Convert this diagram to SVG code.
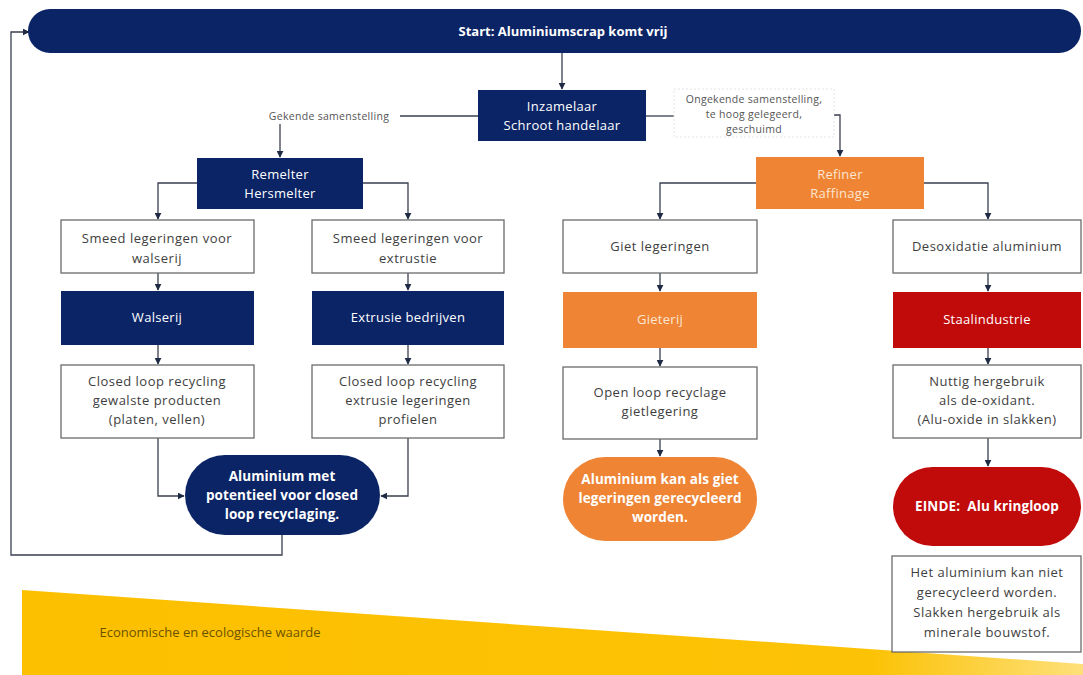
<svg xmlns="http://www.w3.org/2000/svg" width="1083" height="675" viewBox="0 0 1083 675">
<defs>
<marker id="ah" viewBox="0 0 10 10" refX="9" refY="5" markerWidth="7" markerHeight="7" markerUnits="userSpaceOnUse" orient="auto">
<path d="M0,0 L10,5 L0,10 z" fill="#1f2a44"/>
</marker>
<linearGradient id="yg" x1="0" y1="0" x2="1" y2="0">
<stop offset="0" stop-color="#fcc000"/>
<stop offset="0.8" stop-color="#fcc205"/>
<stop offset="1" stop-color="#fde07a"/>
</linearGradient>
<style>
text{font-family:"Open Sans","Liberation Sans",sans-serif;text-anchor:middle;}
.navy{fill:#0b2466;}
.orange{fill:#ee8434;}
.red{fill:#c10a0a;}
.wbox{fill:#ffffff;stroke:#6b6b6b;stroke-width:1.3;}
.wt{fill:#ffffff;font-size:13px;letter-spacing:0.3px;}
.wb{fill:#ffffff;font-size:13.5px;font-weight:bold;letter-spacing:0.1px;}
.pt{fill:#fde6d2;font-size:13px;letter-spacing:0.3px;}
.gt{fill:#3e3e3e;font-size:13px;letter-spacing:0.5px;}
.lbl{fill:#555555;font-size:10.5px;letter-spacing:0.3px;}
.con{fill:none;stroke:#3a3f4f;stroke-width:1.3;}
</style>
</defs>
<rect width="1083" height="675" fill="#ffffff"/>
<g id="band">
<polygon points="22,590 1083,664 1083,675 22,675" fill="url(#yg)"/>
<text x="210" y="637" style="fill:#6b5200;font-size:13px;">Economische en ecologische waarde</text>
</g>
<g id="connectors">
<path class="con" d="M562,53 V89" marker-end="url(#ah)"/>
<path class="con" d="M478,116 H398"/>
<path class="con" d="M280,124 V157" marker-end="url(#ah)"/>
<path class="con" d="M646,116 H676"/>
<path class="con" d="M832,115 H840 V156" marker-end="url(#ah)"/>
<path class="con" d="M197,183 H158 V219" marker-end="url(#ah)"/>
<path class="con" d="M363,183 H408 V219" marker-end="url(#ah)"/>
<path class="con" d="M158,273 V290" marker-end="url(#ah)"/>
<path class="con" d="M408,273 V290" marker-end="url(#ah)"/>
<path class="con" d="M158,345 V364" marker-end="url(#ah)"/>
<path class="con" d="M408,345 V364" marker-end="url(#ah)"/>
<path class="con" d="M158,438 V496 H184" marker-end="url(#ah)"/>
<path class="con" d="M408,438 V496 H381" marker-end="url(#ah)"/>
<path class="con" d="M282,535 V555 H11 V32 H29" marker-end="url(#ah)"/>
<path class="con" d="M756,183 H660 V219" marker-end="url(#ah)"/>
<path class="con" d="M924,183 H988 V219" marker-end="url(#ah)"/>
<path class="con" d="M660,273 V291" marker-end="url(#ah)"/>
<path class="con" d="M660,348 V366" marker-end="url(#ah)"/>
<path class="con" d="M660,439 V456" marker-end="url(#ah)"/>
<path class="con" d="M988,273 V291" marker-end="url(#ah)"/>
<path class="con" d="M988,348 V364" marker-end="url(#ah)"/>
<path class="con" d="M988,438 V466" marker-end="url(#ah)"/>
</g>
<g id="start">
<rect class="navy" x="28" y="9" width="1053" height="44" rx="22"/>
<text class="wb" x="563" y="36" style="font-size:13px;letter-spacing:0">Start: Aluminiumscrap komt vrij</text>
</g>
<g id="inzamelaar">
<rect class="navy" x="478" y="90" width="168" height="51"/>
<text class="wt" x="562" y="111">Inzamelaar</text>
<text class="wt" x="562" y="130">Schroot handelaar</text>
</g>
<g id="label-gekend">
<rect x="258" y="108" width="142" height="16" fill="#ffffff"/>
<text class="lbl" x="329" y="120">Gekende samenstelling</text>
</g>
<g id="label-ongekend">
<rect x="674" y="89" width="160" height="48" fill="#ffffff" stroke="#dddddd" stroke-width="0.8" stroke-dasharray="2,2"/>
<text class="lbl" x="754" y="103">Ongekende samenstelling,</text>
<text class="lbl" x="754" y="118">te hoog gelegeerd,</text>
<text class="lbl" x="754" y="133">geschuimd</text>
</g>
<g id="remelter">
<rect class="navy" x="197" y="158" width="166" height="51"/>
<text class="wt" x="280" y="179">Remelter</text>
<text class="wt" x="280" y="198">Hersmelter</text>
</g>
<g id="refiner">
<rect class="orange" x="756" y="157" width="168" height="52"/>
<text class="pt" x="840" y="179">Refiner</text>
<text class="pt" x="840" y="198">Raffinage</text>
</g>
<g id="smeed-walserij">
<rect class="wbox" x="61" y="220" width="193" height="53"/>
<text class="gt" x="157" y="243">Smeed legeringen voor</text>
<text class="gt" x="157" y="263">walserij</text>
</g>
<g id="smeed-extrusie">
<rect class="wbox" x="312" y="220" width="192" height="53"/>
<text class="gt" x="408" y="243">Smeed legeringen voor</text>
<text class="gt" x="408" y="263">extrustie</text>
</g>
<g id="giet-legeringen">
<rect class="wbox" x="563" y="220" width="194" height="53"/>
<text class="gt" x="660" y="251">Giet legeringen</text>
</g>
<g id="desoxidatie">
<rect class="wbox" x="893" y="220" width="188" height="53"/>
<text class="gt" x="987" y="251">Desoxidatie aluminium</text>
</g>
<g id="walserij">
<rect class="navy" x="61" y="291" width="193" height="54"/>
<text class="wt" x="157" y="322">Walserij</text>
</g>
<g id="extrusie">
<rect class="navy" x="312" y="291" width="192" height="54"/>
<text class="wt" x="408" y="322">Extrusie bedrijven</text>
</g>
<g id="gieterij">
<rect class="orange" x="563" y="292" width="194" height="56"/>
<text class="pt" x="660" y="324">Gieterij</text>
</g>
<g id="staalindustrie">
<rect class="red" x="893" y="292" width="188" height="56"/>
<text class="wt" x="987" y="324">Staalindustrie</text>
</g>
<g id="closed-walserij">
<rect class="wbox" x="61" y="365" width="193" height="73"/>
<text class="gt" x="157" y="386">Closed loop recycling</text>
<text class="gt" x="157" y="405">gewalste producten</text>
<text class="gt" x="157" y="424">(platen, vellen)</text>
</g>
<g id="closed-extrusie">
<rect class="wbox" x="312" y="365" width="192" height="73"/>
<text class="gt" x="408" y="386">Closed loop recycling</text>
<text class="gt" x="408" y="405">extrusie legeringen</text>
<text class="gt" x="408" y="424">profielen</text>
</g>
<g id="open-loop">
<rect class="wbox" x="563" y="367" width="194" height="72"/>
<text class="gt" x="660" y="397">Open loop recyclage</text>
<text class="gt" x="660" y="416">gietlegering</text>
</g>
<g id="nuttig">
<rect class="wbox" x="893" y="365" width="188" height="73"/>
<text class="gt" x="987" y="386">Nuttig hergebruik</text>
<text class="gt" x="987" y="405">als de-oxidant.</text>
<text class="gt" x="987" y="424">(Alu-oxide in slakken)</text>
</g>
<g id="closed-oval">
<rect class="navy" x="185" y="455" width="195" height="80" rx="40"/>
<text class="wb" x="282" y="481">Aluminium met</text>
<text class="wb" x="282" y="500">potentieel voor closed</text>
<text class="wb" x="282" y="519">loop recyclaging.</text>
</g>
<g id="giet-oval">
<rect class="orange" x="563" y="457" width="194" height="84" rx="42"/>
<text class="wb" x="660" y="484">Aluminium kan als giet</text>
<text class="wb" x="660" y="503">legeringen gerecycleerd</text>
<text class="wb" x="660" y="522">worden.</text>
</g>
<g id="einde">
<rect class="red" x="893" y="467" width="188" height="79" rx="39.5"/>
<text class="wb" x="987" y="511" xml:space="preserve">EINDE:  Alu kringloop</text>
</g>
<g id="eindtekst">
<rect class="wbox" x="892" y="556" width="189" height="96"/>
<text class="gt" x="987" y="577">Het aluminium kan niet</text>
<text class="gt" x="987" y="597">gerecycleerd worden.</text>
<text class="gt" x="987" y="617">Slakken hergebruik als</text>
<text class="gt" x="987" y="637">minerale bouwstof.</text>
</g>
</svg>
